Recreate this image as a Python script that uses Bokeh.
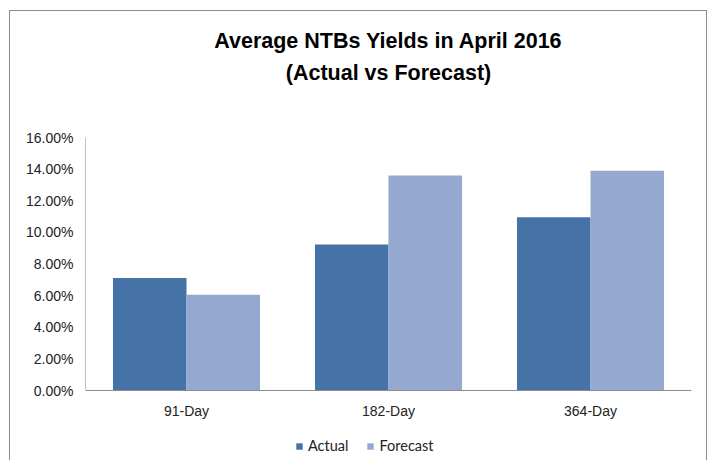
from bokeh.plotting import figure
from bokeh.models import (FactorRange, Range1d, NumeralTickFormatter, Legend,
                          LegendItem, Title, ColumnDataSource, FixedTicker)
from bokeh.transform import dodge
from bokeh.embed import file_html
from bokeh.resources import INLINE

categories = ["91-Day", "182-Day", "364-Day"]
actual = [0.0712, 0.0924, 0.1095]
forecast = [0.0605, 0.1360, 0.1390]
y_ticks = [0.0, 0.02, 0.04, 0.06, 0.08, 0.10, 0.12, 0.14, 0.16]
title_lines = ["Average NTBs Yields in April 2016", "(Actual vs Forecast)"]

ACTUAL_COLOR = "#4572A7"
FORECAST_COLOR = "#95A9D0"

# layout: the value axis spans PLOT_H px; the frame extends below it to hold
# the category labels and the legend
Y_MAX = 0.16
PLOT_H = 253
FRAME_H = 323
y_min = -(FRAME_H - PLOT_H) * Y_MAX / PLOT_H

src = ColumnDataSource(dict(cat=categories, actual=actual, forecast=forecast))

p = figure(x_range=FactorRange(*categories, range_padding=0),
           y_range=Range1d(y_min, Y_MAX),
           frame_width=606, frame_height=FRAME_H,
           min_border_left=75, min_border_right=15,
           min_border_top=126, min_border_bottom=0,
           output_backend="svg", toolbar_location=None,
           background_fill_color="white", border_fill_color="white")
p.outline_line_color = None
p.xgrid.grid_line_color = None
p.ygrid.grid_line_color = None

r1 = p.vbar(x=dodge("cat", -0.182, range=p.x_range), top="actual", width=0.364,
            source=src, fill_color=ACTUAL_COLOR, line_color=None)
r2 = p.vbar(x=dodge("cat", 0.182, range=p.x_range), top="forecast", width=0.364,
            source=src, fill_color=FORECAST_COLOR, line_color=None)

# y axis
p.yaxis.ticker = FixedTicker(ticks=y_ticks)
p.yaxis.bounds = (0, Y_MAX)
p.yaxis.formatter = NumeralTickFormatter(format="0.00%")
p.yaxis.axis_line_color = "#BFBFBF"
p.yaxis.major_tick_line_color = None
p.yaxis.minor_tick_line_color = None
p.yaxis.major_tick_out = 0
p.yaxis.major_tick_in = 0
p.yaxis.major_label_standoff = 12
p.yaxis.major_label_text_font = "Liberation Sans"
p.yaxis.major_label_text_font_size = "14px"
p.yaxis.major_label_text_color = "#222222"

# x axis, pinned at y = 0
p.xaxis.fixed_location = 0
p.xaxis.axis_line_color = "#8C8C8C"
p.xaxis.major_tick_line_color = None
p.xaxis.minor_tick_line_color = None
p.xaxis.major_tick_out = 0
p.xaxis.major_tick_in = 0
p.xaxis.major_label_standoff = 12
p.xaxis.major_label_text_font = "Liberation Sans"
p.xaxis.major_label_text_font_size = "14px"
p.xaxis.major_label_text_color = "#222222"

# legend under the category labels
legend = Legend(items=[LegendItem(label="Actual", renderers=[r1]),
                       LegendItem(label="Forecast", renderers=[r2])],
                orientation="horizontal", location=(210, 6),
                glyph_width=8, glyph_height=8, label_height=16,
                label_standoff=5, spacing=18, padding=2, margin=0,
                label_text_font="Lato", label_text_font_size="14.5px",
                label_text_color="#222222",
                border_line_color=None, background_fill_alpha=0)
p.add_layout(legend, "center")

# spacer nearest the plot, then the two centred title lines
p.add_layout(Title(text=" ", text_font_size="1px", standoff=47), "above")
for line in (title_lines[1], title_lines[0]):
    t = Title(text=line, align="center", offset=-29,
              text_font="Liberation Sans", text_font_style="bold",
              text_font_size="21.5px", text_color="black", standoff=6)
    p.add_layout(t, "above")

p.styles = {"margin-left": "9px", "margin-top": "10px",
            "border-left": "1px solid #8C8C8C",
            "border-top": "1px solid #8C8C8C",
            "border-right": "1px solid #8C8C8C"}

open("out.html", "w").write(file_html(p, INLINE))
